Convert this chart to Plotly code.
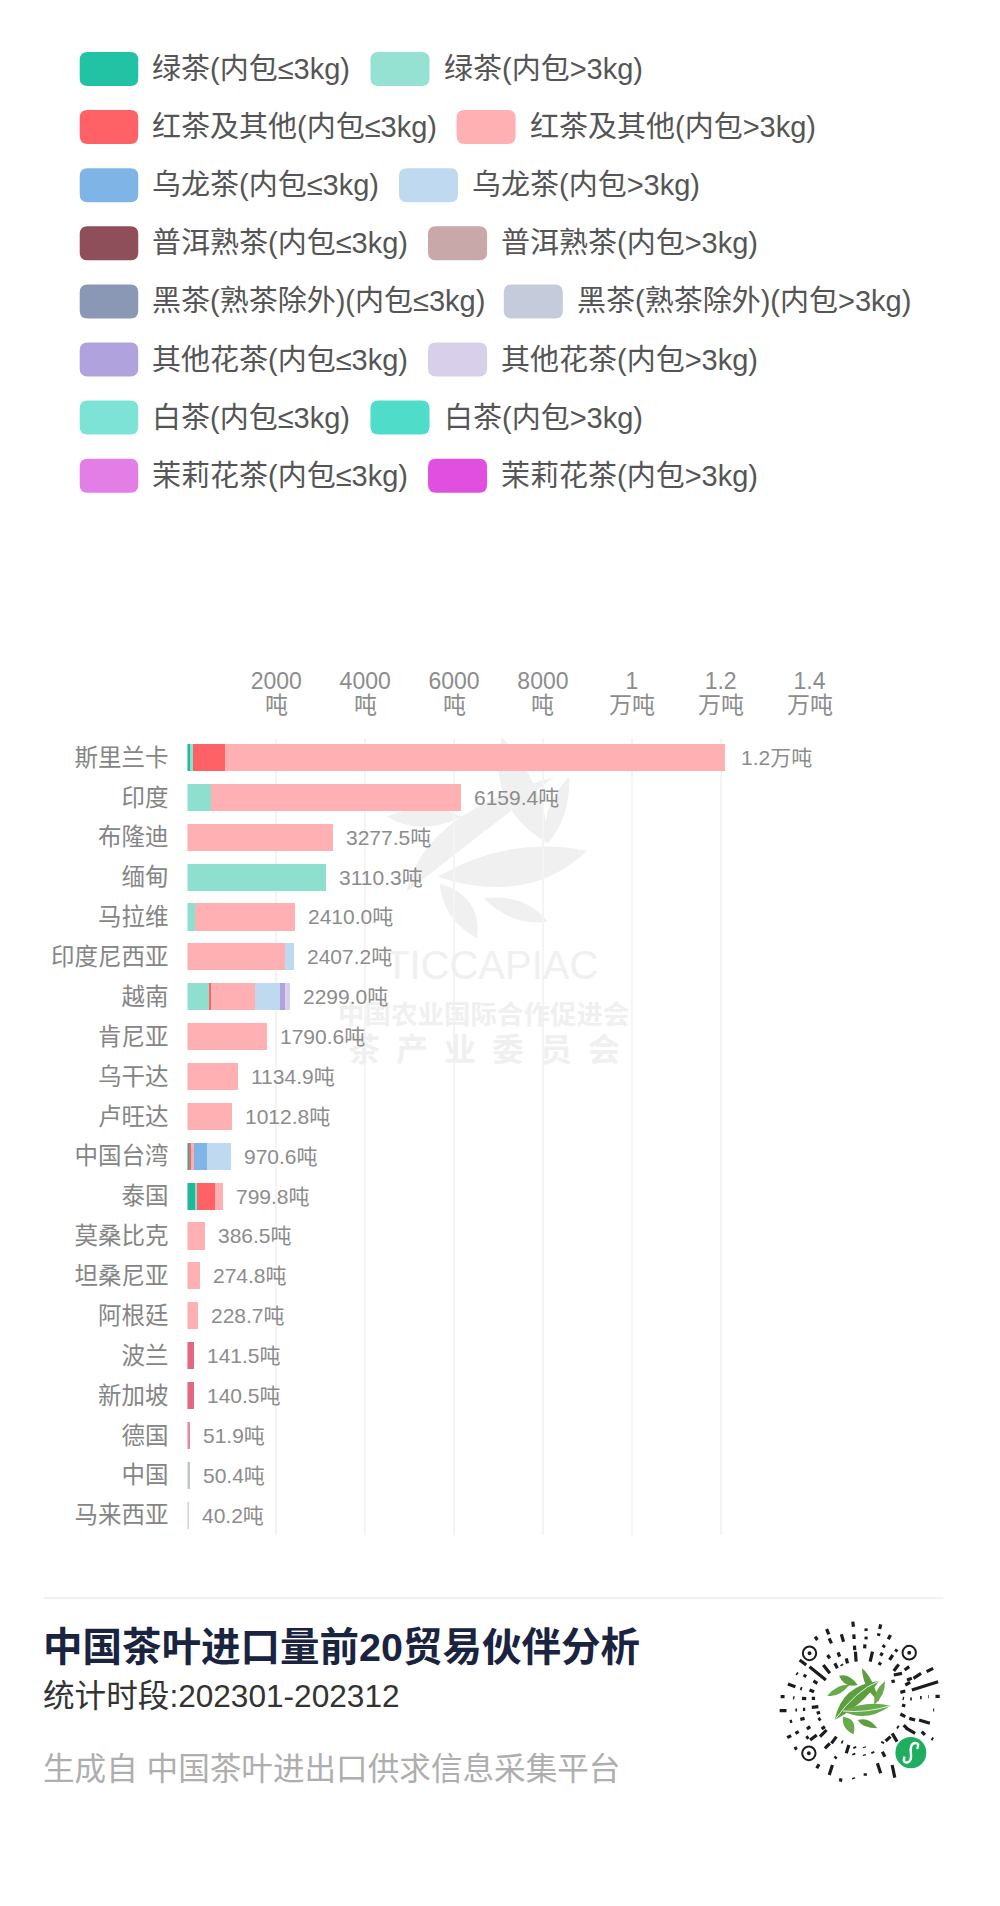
import plotly.graph_objects as go

W, H = 1000, 1906
FONT = "Liberation Sans, Noto Sans CJK SC"

COUNTRIES = ["斯里兰卡", "印度", "布隆迪", "缅甸", "马拉维", "印度尼西亚", "越南", "肯尼亚", "乌干达", "卢旺达",
             "中国台湾", "泰国", "莫桑比克", "坦桑尼亚", "阿根廷", "波兰", "新加坡", "德国", "中国", "马来西亚"]
TOTAL_LABELS = ["1.2万吨", "6159.4吨", "3277.5吨", "3110.3吨", "2410.0吨", "2407.2吨", "2299.0吨", "1790.6吨",
                "1134.9吨", "1012.8吨", "970.6吨", "799.8吨", "386.5吨", "274.8吨", "228.7吨", "141.5吨",
                "140.5吨", "51.9吨", "50.4吨", "40.2吨"]
TOTALS = [12095, 6159.4, 3277.5, 3110.3, 2410.0, 2407.2, 2299.0, 1790.6, 1134.9, 1012.8,
          970.6, 799.8, 386.5, 274.8, 228.7, 141.5, 140.5, 51.9, 50.4, 40.2]

GREEN_SMALL = [88, 0, 0, 0, 0, 0, 0, 0, 0, 0, 50, 200, 0, 0, 0, 0, 0, 0, 0, 0]
GREEN_LARGE = [44, 520, 0, 3110.3, 179, 0, 500, 0, 0, 0, 0, 20, 0, 0, 0, 0, 0, 0, 0, 0]
RED_SMALL = [702, 0, 0, 0, 0, 0, 25, 0, 0, 0, 20, 395, 0, 0, 0, 141.5, 140.5, 51.9, 0, 0]
RED_LARGE = [11261, 5639.4, 3277.5, 0, 2231, 2201, 985, 1790.6, 1134.9, 1012.8,
             75, 184.8, 386.5, 274.8, 228.7, 0, 0, 0, 0, 0]
OOLONG_SMALL = [0, 0, 0, 0, 0, 0, 0, 0, 0, 0, 290, 0, 0, 0, 0, 0, 0, 0, 0, 0]
OOLONG_LARGE = [0, 0, 0, 0, 0, 206.2, 575, 0, 0, 0, 535.6, 0, 0, 0, 0, 0, 0, 0, 0, 0]
PUER_LARGE = [0, 0, 0, 0, 0, 0, 0, 0, 0, 0, 0, 0, 0, 0, 0, 0, 0, 0, 0, 40.2]
DARK_LARGE = [0, 0, 0, 0, 0, 0, 0, 0, 0, 0, 0, 0, 0, 0, 0, 0, 0, 0, 50.4, 0]
FLOWER_SMALL = [0, 0, 0, 0, 0, 0, 100, 0, 0, 0, 0, 0, 0, 0, 0, 0, 0, 0, 0, 0]
FLOWER_LARGE = [0, 0, 0, 0, 0, 0, 114, 0, 0, 0, 0, 0, 0, 0, 0, 0, 0, 0, 0, 0]

TICK_VALUES = [0, 2000, 4000, 6000, 8000, 10000, 12000, 14000]
TICK_NUMBERS = ["", "2000", "4000", "6000", "8000", "1", "1.2", "1.4"]
TICK_UNITS = ["", "吨", "吨", "吨", "吨", "万吨", "万吨", "万吨"]

LEGEND_ROWS = [
    ("绿茶(内包≤3kg)", "#22c3a5", "绿茶(内包>3kg)", "#96e2d2"),
    ("红茶及其他(内包≤3kg)", "#ff6266", "红茶及其他(内包>3kg)", "#ffb0b2"),
    ("乌龙茶(内包≤3kg)", "#7fb5e6", "乌龙茶(内包>3kg)", "#bfd9f0"),
    ("普洱熟茶(内包≤3kg)", "#8e4f5a", "普洱熟茶(内包>3kg)", "#c8a8a8"),
    ("黑茶(熟茶除外)(内包≤3kg)", "#8a97b5", "黑茶(熟茶除外)(内包>3kg)", "#c5cbda"),
    ("其他花茶(内包≤3kg)", "#b0a2dc", "其他花茶(内包>3kg)", "#d8d0eb"),
    ("白茶(内包≤3kg)", "#7de3d6", "白茶(内包>3kg)", "#4fdcc8"),
    ("茉莉花茶(内包≤3kg)", "#e27ee6", "茉莉花茶(内包>3kg)", "#e04fdf"),
]
LEGEND_SECOND_X = [376.5, 464, 405.5, 435, 512, 435, 376.5, 435]

# (name, values, colour) in stacking order
SERIES = [
    (LEGEND_ROWS[0][0], GREEN_SMALL, "#1fb89c"),
    (LEGEND_ROWS[0][2], GREEN_LARGE, "#8fdfcf"),
    (LEGEND_ROWS[1][0], RED_SMALL, ["#ff6266"] * 15 + ["#e2677f", "#e2677f", "#e58a9c", "#ff6266", "#ff6266"]),
    (LEGEND_ROWS[1][2], RED_LARGE, "#ffb0b2"),
    (LEGEND_ROWS[2][0], OOLONG_SMALL, "#7fb5e6"),
    (LEGEND_ROWS[2][2], OOLONG_LARGE, "#bfd9f0"),
    (LEGEND_ROWS[3][2], PUER_LARGE, "#e6c9cf"),
    (LEGEND_ROWS[4][2], DARK_LARGE, "#bccbca"),
    (LEGEND_ROWS[5][0], FLOWER_SMALL, "#b0a2dc"),
    (LEGEND_ROWS[5][2], FLOWER_LARGE, "#d8d0eb"),
]

# watermark leaves and the mini-program code: tip, control, tip, control
WATERMARK_LEAVES = [
    ((345, 470), (560, 345), (800, 392), (620, 560)),
    ((250, 515), (300, 280), (700, 170), (480, 340)),
    ((190, 290), (310, 240), (420, 290), (290, 350)),
    ((540, 50), (680, 210), (680, 370), (490, 260)),
    ((745, 170), (750, 290), (680, 370), (650, 270)),
    ((350, 490), (480, 530), (465, 655), (360, 600)),
    ((485, 535), (610, 520), (680, 605), (570, 620)),
]
LOGO_LEAVES = [
    ((288, 190), (320, 215), (340, 290), (290, 250)),
    ((358, 228), (360, 270), (325, 300), (320, 260)),
    ((218, 212), (250, 205), (275, 240), (235, 250)),
    ((182, 272), (215, 235), (250, 240), (215, 280)),
    ((205, 345), (225, 240), (340, 228), (290, 300)),
    ((230, 335), (275, 340), (262, 388), (225, 370)),
    ((275, 345), (310, 335), (335, 370), (290, 370)),
    ((230, 318), (300, 285), (375, 302), (300, 355)),
]
QR_DASHES = [
    (260, 50, 262, 65), (180, 72, 187, 88), (300, 70, 301, 78), (345, 58, 342, 72), (145, 95, 152, 105),
    (225, 88, 232, 110), (263, 88, 264, 102), (301, 95, 300, 103), (340, 85, 338, 93), (375, 90, 368, 103),
    (188, 100, 195, 115), (297, 118, 296, 130), (265, 122, 266, 135), (268, 140, 270, 170), (320, 140, 313, 170),
    (357, 120, 352, 127), (395, 133, 390, 140), (183, 150, 190, 160), (215, 142, 220, 155), (240, 160, 244, 175),
    (350, 143, 345, 152), (382, 150, 372, 165), (345, 172, 340, 180), (225, 178, 228, 182), (205, 175, 213, 190),
    (170, 180, 190, 205), (128, 185, 178, 225), (98, 165, 118, 180), (400, 178, 385, 198), (432, 185, 418, 195),
    (505, 190, 485, 200), (468, 205, 445, 220), (425, 225, 440, 220), (88, 205, 92, 208), (110, 210, 118, 215),
    (140, 228, 152, 235), (62, 237, 85, 245), (100, 250, 105, 252), (128, 255, 142, 260), (40, 275, 52, 275),
    (78, 278, 82, 279), (105, 280, 118, 281), (135, 280, 145, 280), (37, 317, 58, 317), (85, 315, 90, 315),
    (108, 313, 115, 313), (135, 307, 155, 305), (68, 350, 75, 348), (100, 343, 113, 340), (150, 325, 160, 322),
    (60, 398, 72, 392), (85, 385, 95, 380), (120, 372, 130, 365), (155, 345, 162, 340), (130, 405, 150, 390),
    (165, 372, 175, 365), (82, 432, 90, 428), (118, 400, 125, 395), (160, 395, 180, 375), (195, 415, 210, 395),
    (175, 430, 190, 415), (225, 410, 230, 412), (205, 460, 210, 455), (150, 490, 157, 478), (188, 510, 198, 480),
    (222, 530, 224, 520), (240, 445, 248, 420), (265, 425, 267, 430), (295, 425, 296, 428), (262, 445, 264, 450),
    (262, 518, 263, 522), (295, 448, 296, 452), (298, 505, 298, 512), (320, 440, 322, 445), (350, 415, 352, 410),
    (335, 475, 345, 505), (380, 480, 388, 518), (350, 440, 358, 455), (360, 408, 375, 395), (380, 385, 395, 410),
    (415, 360, 425, 370), (420, 368, 450, 385), (395, 365, 400, 368), (405, 327, 420, 335), (432, 340, 450, 345),
    (462, 345, 495, 355), (470, 380, 480, 390), (500, 400, 505, 403), (410, 300, 420, 303), (412, 280, 416, 281),
    (435, 282, 440, 282), (465, 278, 470, 278), (490, 275, 492, 275), (512, 274, 525, 274), (505, 315, 508, 315),
    (440, 255, 520, 230), (405, 262, 420, 258), (420, 240, 435, 232), (385, 210, 410, 205), (378, 230, 388, 228),
]
QR_FINDERS = [(128, 145), (432, 143), (126, 445)]


def px(x, y):
    return f"{x / W:.5f},{1 - y / H:.5f}"


def shape(path, fill=None, line=None, width=0, layer="below"):
    return dict(type="path", xref="paper", yref="paper", path=path, layer=layer,
                fillcolor=fill or "rgba(0,0,0,0)", line=dict(color=line or "rgba(0,0,0,0)", width=width))


def swatch(x0, y0, x1, y1, color, r=8):
    path = (f"M{px(x0 + r, y0)} L{px(x1 - r, y0)} Q{px(x1, y0)} {px(x1, y0 + r)} L{px(x1, y1 - r)} "
            f"Q{px(x1, y1)} {px(x1 - r, y1)} L{px(x0 + r, y1)} Q{px(x0, y1)} {px(x0, y1 - r)} "
            f"L{px(x0, y0 + r)} Q{px(x0, y0)} {px(x0 + r, y0)} Z")
    return shape(path, fill=color)


def leaf(points, convert, color):
    (a, b, c, d) = [convert(*p) for p in points]
    return shape(f"M{px(*a)} Q{px(*b)} {px(*c)} Q{px(*d)} {px(*a)} Z", fill=color)


def circle(cx, cy, r, fill=None, line=None, width=0):
    return dict(type="circle", xref="paper", yref="paper", x0=(cx - r) / W, x1=(cx + r) / W,
                y0=1 - (cy + r) / H, y1=1 - (cy - r) / H, fillcolor=fill or "rgba(0,0,0,0)",
                line=dict(color=line or "rgba(0,0,0,0)", width=width), layer="above")


def text(x, y, s, size, color, anchor="left", xref="paper"):
    return dict(x=x / W if xref == "paper" else x, y=1 - y / H, xref=xref, yref="paper", text=s, showarrow=False,
                xanchor=anchor, yanchor="middle", font=dict(family=FONT, size=size, color=color))


def wm(x, y):
    return 330 + x / 3, 720 + y / 3


def qr(x, y):
    return 780 + x / 3, 1605 + y / 3


shapes, notes = [], []

# watermark first so that everything else sits over it
for points in WATERMARK_LEAVES:
    shapes.append(leaf(points, wm, "#f0f0f0"))
notes.append(text(499, 965, "TICCAPIAC", 40, "#f0f0f0", "center"))
notes.append(text(492, 1015, "<b>中国农业国际合作促进会</b>", 26.5, "#f0f0f0", "center"))
notes.append(text(492, 1050, "<b>茶\u2002产\u2002业\u2002委\u2002员\u2002会</b>", 32, "#f0f0f0", "center"))

# legend
for i, (left, c1, right, c2) in enumerate(LEGEND_ROWS):
    cy = 69 + i * 58.1
    shapes.append(swatch(81, cy - 17, 140.5, cy + 17, c1))
    shapes.append(swatch(LEGEND_SECOND_X[i], cy - 17, LEGEND_SECOND_X[i] + 60, cy + 17, c2))
    notes.append(text(152, cy, left, 29, "#555555"))
    notes.append(text(LEGEND_SECOND_X[i] + 72.5, cy, right, 29, "#555555"))

# unit line under the axis numbers
for value, unit in zip(TICK_VALUES, TICK_UNITS):
    if unit:
        notes.append(text(value, 705, unit, 23, "#8c8c8c", "center", xref="x"))

# total at the end of each bar
for i, (total, label) in enumerate(zip(TOTALS, TOTAL_LABELS)):
    notes.append(dict(x=total, y=COUNTRIES[i], xref="x", yref="y", text=label, showarrow=False, xanchor="left",
                      xshift=14 if i == 0 else 11, font=dict(family=FONT, size=21, color="#8c8c8c")))

# footer
shapes.append(dict(type="line", xref="paper", yref="paper", x0=44.5 / W, x1=958.5 / W, y0=1 - 1598 / H, y1=1 - 1598 / H,
                   line=dict(color="#f1f1f1", width=2)))
notes.append(text(41.5, 1647, "<b>中国茶叶进口量前20贸易伙伴分析</b>", 39.5, "#1a2340"))
notes.append(text(41.5, 1696, "统计时段:202301-202312", 31.6, "#333333"))
notes.append(text(41.5, 1769, "生成自 中国茶叶进出口供求信息采集平台", 31.6, "#aeaeae"))

# mini-program code
dash_path = " ".join(f"M{px(*qr(a, b))} L{px(*qr(c, d))}" for a, b, c, d in QR_DASHES)
shapes.append(shape(dash_path, line="#1c1c1c", width=3.2))
for fx, fy in QR_FINDERS:
    cx, cy = qr(fx, fy)
    shapes.append(circle(cx, cy, 6.8, line="#1c1c1c", width=2))
    shapes.append(circle(cx, cy, 2, fill="#1c1c1c"))
for n, points in enumerate(LOGO_LEAVES):
    shapes.append(leaf(points, qr, "#69ab4c" if n % 2 else "#5d9f3f"))
veins = [((205, 345), (270, 255), (340, 228)), ((230, 318), (300, 325), (375, 302))]
for a, b, c in veins:
    shapes.append(shape(f"M{px(*qr(*a))} Q{px(*qr(*b))} {px(*qr(*c))}", line="#e4f2da", width=1))
bx, by = qr(437, 443)
shapes.append(circle(bx, by, 15.7, fill="#1fae60"))
s_curve = [(418, 455), (410, 475), (428, 472), (440, 468), (437, 443), (434, 418), (448, 414), (466, 412), (456, 432)]
s_pts = [px(*qr(*p)) for p in s_curve]
shapes.append(shape(f"M{s_pts[0]} Q{s_pts[1]} {s_pts[2]} Q{s_pts[3]} {s_pts[4]} Q{s_pts[5]} {s_pts[6]} Q{s_pts[7]} {s_pts[8]}",
                    line="#ffffff", width=2.4, layer="above"))

fig = go.Figure()
for name, values, color in SERIES:
    fig.add_trace(go.Bar(y=COUNTRIES, x=values, name=name, orientation="h", marker=dict(color=color, line=dict(width=0))))

fig.update_layout(
    width=W,
    height=H,
    autosize=False,
    margin=dict(l=0, r=0, t=0, b=0),
    paper_bgcolor="white",
    plot_bgcolor="rgba(0,0,0,0)",
    barmode="stack",
    bargap=0.32,
    showlegend=False,
    font=dict(family=FONT),
    shapes=shapes,
    annotations=notes,
    xaxis=dict(
        domain=[190.5 / W, 822.7 / W],
        range=[0, 14000],
        side="top",
        tickmode="array",
        tickvals=TICK_VALUES,
        ticktext=TICK_NUMBERS,
        ticks="",
        ticklabelstandoff=43,
        tickfont=dict(size=23, color="#8c8c8c"),
        showgrid=True,
        gridcolor="#f4f4f4",
        gridwidth=2,
        zeroline=False,
        showline=False,
    ),
    yaxis=dict(
        domain=[1 - 1535 / H, 1 - 737.5 / H],
        autorange="reversed",
        ticks="",
        ticklabelstandoff=18,
        tickfont=dict(size=23.5, color="#858585"),
        showgrid=False,
        zeroline=False,
        showline=False,
    ),
)

fig.write_html("out.html", config={"displayModeBar": False}, post_script="document.body.style.margin='0';")
